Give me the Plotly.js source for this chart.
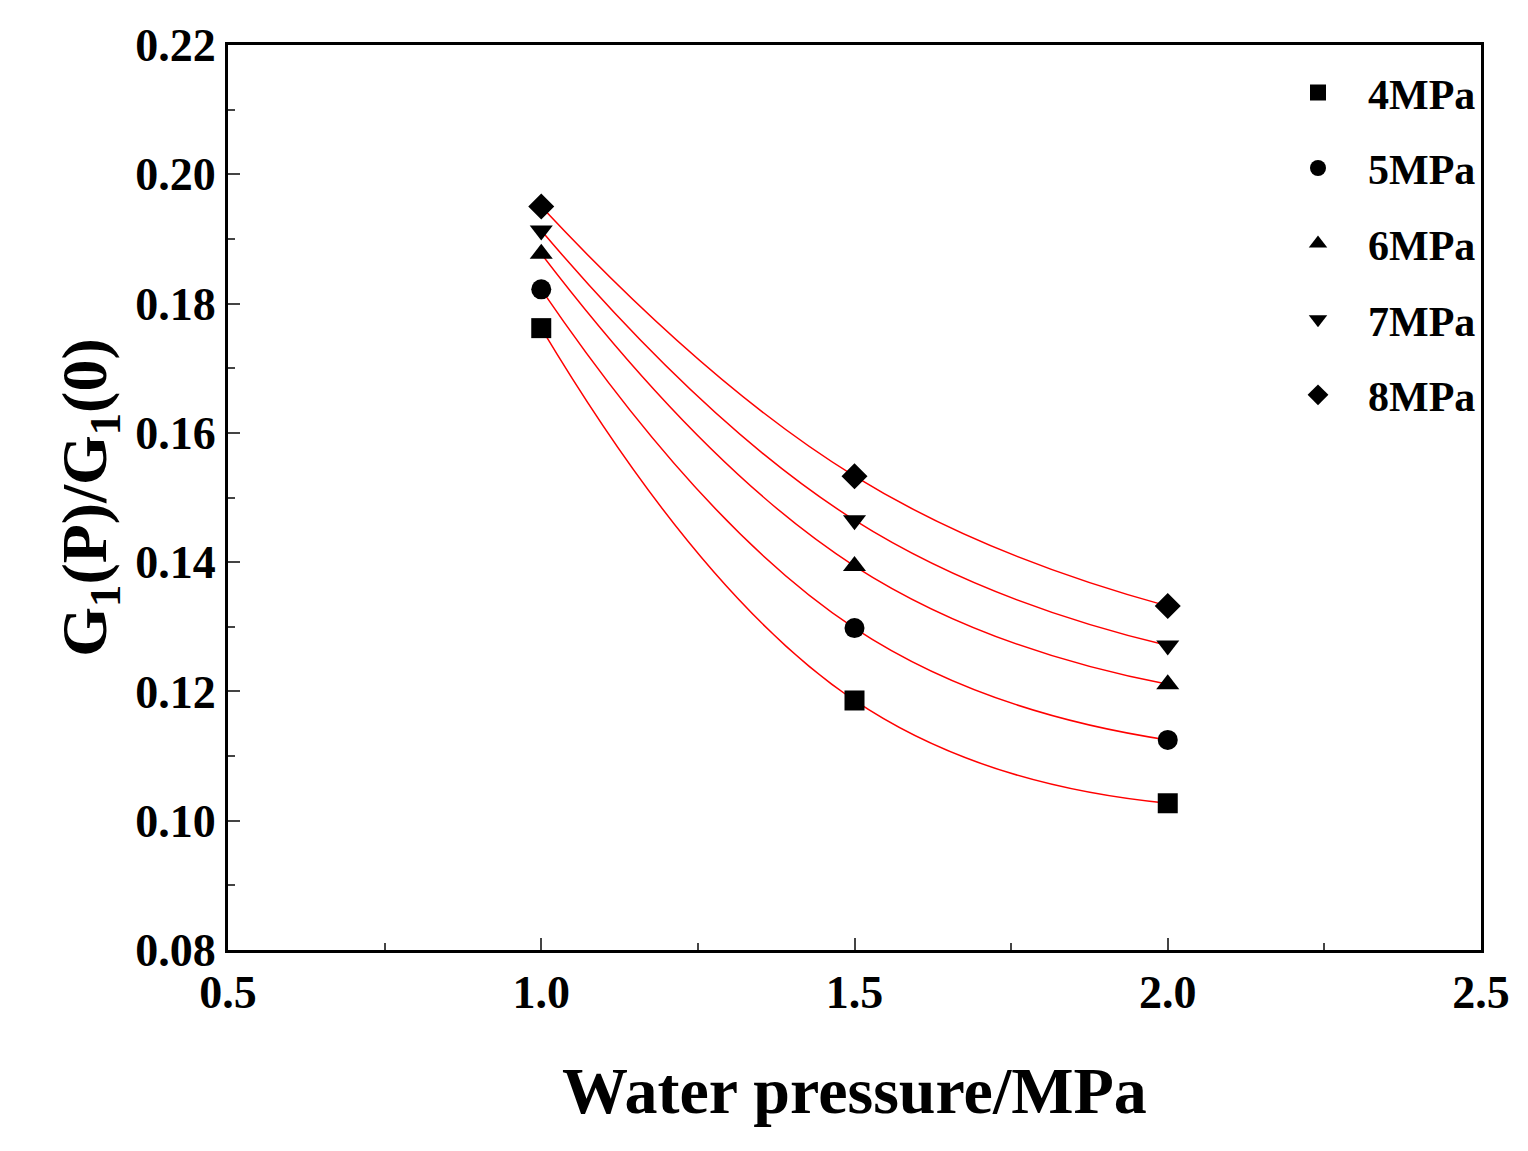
<!DOCTYPE html>
<html>
<head>
<meta charset="utf-8">
<script src="https://cdn.plot.ly/plotly-3.0.1.min.js"></script>
<style>body{margin:0;background:#fff}#plot{width:1528px;height:1151px}</style>
</head>
<body>
<div id="plot"></div>
<script>
var pressure = [1.0, 1.5, 2.0];
var seriesNames = ['4MPa', '5MPa', '6MPa', '7MPa', '8MPa'];
var g4 = [0.1762, 0.1186, 0.1027];
var g5 = [0.1822, 0.1298, 0.1125];
var g6 = [0.1877, 0.1394, 0.1211];
var g7 = [0.1913, 0.1465, 0.1271];
var g8 = [0.1950, 0.1533, 0.1332];
var symbols = ['square', 'circle', 'triangle-up', 'triangle-down', 'diamond'];

var allSeries = [g4, g5, g6, g7, g8];
var traces = [];
allSeries.forEach(function (ys, i) {
  // fitted curve (red, drawn as smooth spline through the points)
  traces.push({
    x: pressure, y: ys, type: 'scatter', mode: 'lines',
    line: {color: '#ff0000', width: 1.5, shape: 'spline', smoothing: 1.3},
    showlegend: false, hoverinfo: 'skip'
  });
});
allSeries.forEach(function (ys, i) {
  traces.push({
    x: pressure, y: ys, type: 'scatter', mode: 'markers',
    name: seriesNames[i], legendgroup: 'g' + i,
    marker: {symbol: symbols[i], size: 20, color: '#000'}
  });
});

var font = {family: 'Liberation Serif, Times New Roman, serif', color: '#000'};
var layout = {
  width: 1528, height: 1151,
  margin: {l: 228, r: 47, t: 45, b: 201},
  paper_bgcolor: '#fff', plot_bgcolor: '#fff',
  font: font,
  showlegend: true,
  legend: {
    x: 1, xanchor: 'right', y: 0.985, yanchor: 'top',
    font: {family: font.family, size: 42, color: '#000', weight: 'bold'},
    tracegroupgap: 18, itemwidth: 90, bgcolor: 'rgba(0,0,0,0)'
  },
  xaxis: {
    range: [0.5, 2.5], dtick: 0.5, tick0: 0.5, tickformat: '.1f',
    ticks: 'inside', ticklen: 12, tickwidth: 2, showgrid: false, zeroline: false,
    showline: true, linewidth: 3, linecolor: '#000', mirror: true,
    minor: {dtick: 0.25, ticks: 'inside', ticklen: 7, tickwidth: 2, showgrid: false},
    tickfont: {family: font.family, size: 46, weight: 'bold'},
    title: {text: 'Water pressure/MPa', standoff: 50,
      font: {family: font.family, size: 66, weight: 'bold'}}
  },
  yaxis: {
    range: [0.08, 0.22], dtick: 0.02, tick0: 0.08, tickformat: '.2f',
    ticks: 'inside', ticklen: 12, tickwidth: 2, showgrid: false, zeroline: false,
    showline: true, linewidth: 3, linecolor: '#000', mirror: true,
    minor: {dtick: 0.01, ticks: 'inside', ticklen: 7, tickwidth: 2, showgrid: false},
    tickfont: {family: font.family, size: 46, weight: 'bold'},
    title: {text: 'G<sub>1</sub>(P)/G<sub>1</sub>(0)', standoff: 8,
      font: {family: font.family, size: 64, weight: 'bold'}}
  }
};

Plotly.newPlot('plot', traces, layout, {displayModeBar: false, staticPlot: true});
</script>
</body>
</html>
